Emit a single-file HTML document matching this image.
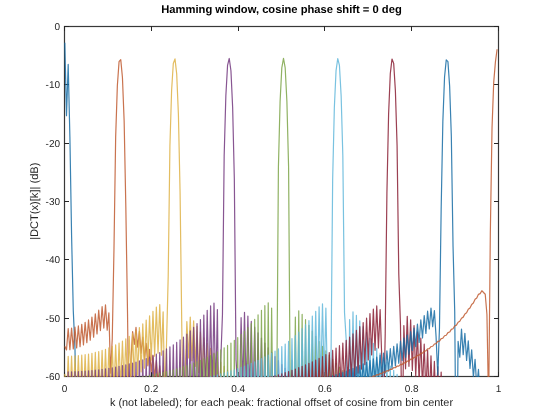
<!DOCTYPE html>
<html><head><meta charset="utf-8"><style>
html,body{margin:0;padding:0;background:#fff;width:543px;height:416px;overflow:hidden}
svg{display:block;will-change:transform}
text{font-family:"Liberation Sans",sans-serif;fill:#262626;text-rendering:geometricPrecision}
</style></head><body><div id="wrap">
<svg width="543" height="416" viewBox="0 0 543 416">
<rect width="543" height="416" fill="#fff"/>
<g stroke="#262626" stroke-width="1" fill="none">
<rect x="64.5" y="26.5" width="434.0" height="350.0" stroke="#383838" stroke-width="1.2"/>
<line x1="64.50" y1="377" x2="64.50" y2="372"/><line x1="64.50" y1="26" x2="64.50" y2="31"/><line x1="151.50" y1="377" x2="151.50" y2="372"/><line x1="151.50" y1="26" x2="151.50" y2="31"/><line x1="238.50" y1="377" x2="238.50" y2="372"/><line x1="238.50" y1="26" x2="238.50" y2="31"/><line x1="324.50" y1="377" x2="324.50" y2="372"/><line x1="324.50" y1="26" x2="324.50" y2="31"/><line x1="411.50" y1="377" x2="411.50" y2="372"/><line x1="411.50" y1="26" x2="411.50" y2="31"/><line x1="498.50" y1="377" x2="498.50" y2="372"/><line x1="498.50" y1="26" x2="498.50" y2="31"/><line x1="64" y1="26.50" x2="69" y2="26.50"/><line x1="499" y1="26.50" x2="494" y2="26.50"/><line x1="64" y1="84.50" x2="69" y2="84.50"/><line x1="499" y1="84.50" x2="494" y2="84.50"/><line x1="64" y1="143.50" x2="69" y2="143.50"/><line x1="499" y1="143.50" x2="494" y2="143.50"/><line x1="64" y1="201.50" x2="69" y2="201.50"/><line x1="499" y1="201.50" x2="494" y2="201.50"/><line x1="64" y1="259.50" x2="69" y2="259.50"/><line x1="499" y1="259.50" x2="494" y2="259.50"/><line x1="64" y1="318.50" x2="69" y2="318.50"/><line x1="499" y1="318.50" x2="494" y2="318.50"/><line x1="64" y1="376.50" x2="69" y2="376.50"/><line x1="499" y1="376.50" x2="494" y2="376.50"/>
</g>
<defs><clipPath id="cp"><rect x="64" y="26" width="435" height="351"/></clipPath></defs>
<g fill="none" stroke-width="1.2" stroke-opacity="0.85" stroke-linejoin="round" clip-path="url(#cp)">
<polyline stroke="#166ca4" points="64.80,42.83 66.50,115.72 68.19,64.42 69.89,136.64 71.58,235.28 73.28,310.76 74.97,348.13 76.67,445.46 78.36,437.49 80.06,469.67 81.75,582.11 83.45,457.36 85.14,528.82 86.84,462.62 88.53,516.95 90.23,471.15 91.92,518.57 93.62,480.27 95.32,523.81 97.01,489.23 98.71,530.25 100.40,497.78 102.10,537.02 103.79,505.86 105.49,543.76 107.18,513.45 108.88,550.34 110.57,520.61 112.27,556.68 113.96,527.35 115.66,562.76 117.35,533.72 119.05,568.57 120.75,539.74 122.44,574.14 124.14,545.46 125.83,579.46 127.53,550.90 129.22,584.56 130.92,556.08 132.61,589.44 134.31,561.02 136.00,594.13 137.70,565.76 139.39,598.64 141.09,570.29 142.78,602.97 144.48,574.65 146.18,607.14 147.87,578.84 149.57,611.17 151.26,582.87 152.96,615.05 154.65,586.76 156.35,618.81 158.04,590.52 159.74,622.45 161.43,594.16 163.13,625.98 164.82,597.68 166.52,629.39 168.21,601.09 169.91,632.71 171.60,604.41 173.30,635.94 175.00,607.62 176.69,639.08 178.39,610.75 180.08,642.13 181.78,613.80 183.47,645.11 185.17,616.77 186.86,648.02 188.56,619.66 190.25,650.85 191.95,622.49 193.64,653.62 195.34,625.25 197.03,656.33 198.73,627.94 200.43,658.97 202.12,630.58 203.82,661.57 205.51,633.16 207.21,664.10 208.90,635.69 210.60,666.59 212.29,638.17 213.99,669.03 215.68,640.61 217.38,671.43 219.07,642.99 220.77,673.78 222.46,645.34 224.16,676.09 225.85,647.64 227.55,678.37 229.25,649.90 230.94,680.60 232.64,652.13 234.33,682.80 236.03,654.32 237.72,684.97 239.42,656.48 241.11,687.11 242.81,658.61 244.50,689.21 246.20,660.71 247.89,691.29 249.59,662.78 251.28,693.34 252.98,664.83 254.68,695.36 256.37,666.84 258.07,697.36 259.76,668.84 261.46,699.34 263.15,670.81 264.85,701.29 266.54,672.76 268.24,703.23 269.93,674.69 271.63,705.14 273.32,676.60 275.02,707.04 276.71,678.49 278.41,708.92 280.10,680.37 281.80,710.78 283.50,682.23 285.19,712.63 286.89,684.07 288.58,714.46 290.28,685.91 291.97,716.29 293.67,687.73 295.36,718.10 297.06,689.54 298.75,719.90 300.45,691.33 302.14,721.69 303.84,693.12 305.53,723.47 307.23,694.91 308.93,725.25 310.62,696.68 312.32,727.02 314.01,698.45 315.71,728.78 317.40,700.21 319.10,730.54 320.79,701.97 322.49,732.29 324.18,703.73 325.88,734.05 327.57,705.49 329.27,735.80 330.96,707.25 332.66,737.56 334.35,709.00 336.05,739.31 337.75,710.76 339.44,741.07 341.14,712.52 342.83,742.83 344.53,714.29 346.22,744.60 347.92,716.06 349.61,746.38 351.31,717.85 353.00,748.16 354.70,719.64 356.39,749.95 358.09,721.44 359.78,751.76 361.48,723.25 363.18,753.58 364.87,725.07 366.57,755.41 368.26,726.92 369.96,757.26 371.65,728.78 373.35,759.13 375.04,730.66 376.74,761.02 378.43,732.56 380.13,762.93 381.82,734.48 383.52,764.87 385.21,736.44 386.91,766.83 388.60,738.42 390.30,768.83 392.00,740.43 393.69,770.86 395.39,742.48 397.08,772.93 398.78,744.58 400.47,775.04 402.17,746.71 403.86,777.20 405.56,748.89 407.25,779.40 408.95,751.13 410.64,781.67 412.34,753.42 414.03,783.99 415.73,755.77 417.43,786.38 419.12,758.20 420.82,788.84 422.51,760.70 424.21,791.39 425.90,763.30 427.60,794.02 429.29,765.98 430.99,796.76 432.68,768.78 434.38,799.61 436.07,771.69 437.77,802.59 439.46,774.74 441.16,805.71 442.85,777.94 444.55,809.00 446.25,781.31 447.94,812.47 449.64,784.88 451.33,816.15 453.03,788.68 454.72,820.08 456.42,792.75 458.11,824.29 459.81,797.13 461.50,828.85 463.20,801.88 464.89,833.81 466.59,807.08 468.28,839.27 469.98,812.83 471.68,845.34 473.37,819.27 475.07,852.21 476.76,826.61 478.46,860.10 480.15,835.15 481.85,869.41 483.54,845.38 485.24,880.77 486.93,858.17 488.63,895.39 490.32,875.25 492.02,915.97 493.71,901.16 495.41,951.10 497.10,956.84"/>
<polyline stroke="#c05b30" points="64.80,346.28 66.50,349.98 68.19,328.55 69.89,349.65 71.58,328.04 73.28,348.98 74.97,327.18 76.67,347.97 78.36,325.96 80.06,346.60 81.75,324.36 83.45,344.85 85.14,322.36 86.84,342.71 88.53,319.94 90.23,340.16 91.92,317.07 93.62,337.21 95.32,313.79 97.01,333.93 98.71,310.18 100.40,330.57 102.10,306.67 103.79,328.06 105.49,304.80 107.18,330.23 108.88,312.76 110.57,373.27 112.27,338.36 113.96,249.90 115.66,137.13 117.35,85.79 119.05,61.70 120.75,59.68 122.44,77.45 124.14,120.86 125.83,207.35 127.53,313.83 129.22,448.44 130.92,360.14 132.61,331.62 134.31,344.51 136.00,327.29 137.70,347.26 139.39,331.37 141.09,353.09 142.78,337.21 144.48,359.49 146.18,343.37 147.87,365.82 149.57,349.40 151.26,371.88 152.96,355.18 154.65,377.62 156.35,360.67 158.04,383.04 159.74,365.87 161.43,388.18 163.13,370.80 164.82,393.04 166.52,375.49 168.21,397.66 169.91,379.95 171.60,402.05 173.30,384.20 175.00,406.24 176.69,388.27 178.39,410.26 180.08,392.18 181.78,414.10 183.47,395.92 185.17,417.80 186.86,399.53 188.56,421.36 190.25,403.00 191.95,424.79 193.64,406.36 195.34,428.11 197.03,409.61 198.73,431.32 200.43,412.75 202.12,434.42 203.82,415.80 205.51,437.44 207.21,418.76 208.90,440.37 210.60,421.65 212.29,443.23 213.99,424.45 215.68,446.00 217.38,427.19 219.07,448.71 220.77,429.85 222.46,451.36 224.16,432.46 225.85,453.94 227.55,435.01 229.25,456.47 230.94,437.50 232.64,458.94 234.33,439.94 236.03,461.36 237.72,442.34 239.42,463.74 241.11,444.69 242.81,466.07 244.50,446.99 246.20,468.36 247.89,449.26 249.59,470.61 251.28,451.49 252.98,472.82 254.68,453.68 256.37,475.00 258.07,455.84 259.76,477.15 261.46,457.96 263.15,479.26 264.85,460.06 266.54,481.35 268.24,462.13 269.93,483.41 271.63,464.17 273.32,485.44 275.02,466.19 276.71,487.45 278.41,468.18 280.10,489.43 281.80,470.15 283.50,491.40 285.19,472.11 286.89,493.34 288.58,474.04 290.28,495.27 291.97,475.96 293.67,497.18 295.36,477.86 297.06,499.07 298.75,479.74 300.45,500.95 302.14,481.62 303.84,502.82 305.53,483.48 307.23,504.68 308.93,485.32 310.62,506.52 312.32,487.16 314.01,508.36 315.71,489.00 317.40,510.19 319.10,490.82 320.79,512.01 322.49,492.64 324.18,513.83 325.88,494.45 327.57,515.64 329.27,496.26 330.96,517.45 332.66,498.07 334.35,519.26 336.05,499.88 337.75,521.07 339.44,501.69 341.14,522.88 342.83,503.50 344.53,524.69 346.22,505.31 347.92,526.51 349.61,507.13 351.31,528.33 353.00,508.95 354.70,530.16 356.39,510.79 358.09,532.00 359.78,512.63 361.48,533.85 363.18,514.48 364.87,535.71 366.57,516.35 368.26,537.59 369.96,518.23 371.65,539.48 373.35,520.13 375.04,541.39 376.74,522.05 378.43,543.32 380.13,524.00 381.82,545.27 383.52,525.96 385.21,547.25 386.91,527.96 388.60,549.26 390.30,529.98 392.00,551.30 393.69,532.03 395.39,553.38 397.08,534.13 398.78,555.49 400.47,536.26 402.17,557.65 403.86,538.44 405.56,559.85 407.25,540.67 408.95,562.10 410.64,542.95 412.34,564.41 414.03,545.29 415.73,566.79 417.43,547.70 419.12,569.23 420.82,550.18 422.51,571.75 424.21,552.74 425.90,574.36 427.60,555.39 429.29,577.06 430.99,558.14 432.68,579.86 434.38,561.01 436.07,582.79 437.77,564.00 439.46,585.85 441.16,567.13 442.85,589.06 444.55,570.43 446.25,592.45 447.94,573.91 449.64,596.03 451.33,577.60 453.03,599.84 454.72,581.53 456.42,603.91 458.11,585.76 459.81,608.30 461.50,590.32 463.20,613.06 464.89,595.29 466.59,618.26 468.28,600.76 469.98,624.02 471.68,606.84 473.37,630.47 475.07,613.70 476.76,637.81 478.46,621.60 480.15,646.35 481.85,630.91 483.54,656.59 485.24,642.28 486.93,669.37 488.63,656.90 490.32,686.46 492.02,677.48 493.71,712.37 495.41,712.62 497.10,768.05"/>
<polyline stroke="#deb145" points="64.80,373.90 66.50,401.75 68.19,356.29 69.89,401.66 71.58,356.15 73.28,401.48 74.97,355.92 76.67,401.20 78.36,355.60 80.06,400.84 81.75,355.18 83.45,400.37 85.14,354.66 86.84,399.81 88.53,354.04 90.23,399.15 91.92,353.31 93.62,398.38 95.32,352.47 97.01,397.50 98.71,351.52 100.40,396.51 102.10,350.45 103.79,395.39 105.49,349.26 107.18,394.14 108.88,347.92 110.57,392.76 112.27,346.44 113.96,391.23 115.66,344.80 117.35,389.54 119.05,343.00 120.75,387.68 122.44,341.00 124.14,385.63 125.83,338.81 127.53,383.37 129.22,336.38 130.92,380.89 132.61,333.72 134.31,378.16 136.00,330.78 137.70,375.16 139.39,327.53 141.09,371.86 142.78,323.96 144.48,368.26 146.18,320.04 147.87,364.36 149.57,315.80 151.26,360.24 152.96,311.33 154.65,356.19 156.35,307.06 158.04,353.18 159.74,304.56 161.43,355.25 163.13,311.88 164.82,400.44 166.52,343.55 168.21,276.12 169.91,146.21 171.60,90.54 173.30,63.44 175.00,58.91 176.69,73.89 178.39,113.84 180.08,192.48 181.78,327.05 183.47,426.73 185.17,372.65 186.86,321.60 188.56,357.90 190.25,317.04 191.95,360.72 193.64,320.85 195.34,366.38 197.03,326.37 198.73,372.52 200.43,332.18 202.12,378.54 203.82,337.85 205.51,384.28 207.21,343.25 208.90,389.68 210.60,348.37 212.29,394.77 213.99,353.21 215.68,399.56 217.38,357.79 219.07,404.09 220.77,362.13 222.46,408.38 224.16,366.25 225.85,412.46 227.55,370.19 229.25,416.35 230.94,373.94 232.64,420.06 234.33,377.54 236.03,423.62 237.72,381.00 239.42,427.04 241.11,384.32 242.81,430.33 244.50,387.53 246.20,433.51 247.89,390.63 249.59,436.58 251.28,393.63 252.98,439.55 254.68,396.54 256.37,442.43 258.07,399.36 259.76,445.24 261.46,402.11 263.15,447.96 264.85,404.79 266.54,450.62 268.24,407.40 269.93,453.21 271.63,409.95 273.32,455.75 275.02,412.45 276.71,458.23 278.41,414.89 280.10,460.65 281.80,417.28 283.50,463.04 285.19,419.63 286.89,465.37 288.58,421.94 290.28,467.67 291.97,424.21 293.67,469.93 295.36,426.45 297.06,472.15 298.75,428.65 300.45,474.35 302.14,430.82 303.84,476.51 305.53,432.96 307.23,478.65 308.93,435.08 310.62,480.76 312.32,437.18 314.01,482.85 315.71,439.25 317.40,484.92 319.10,441.30 320.79,486.97 322.49,443.34 324.18,489.00 325.88,445.36 327.57,491.02 329.27,447.37 330.96,493.03 332.66,449.37 334.35,495.02 336.05,451.36 337.75,497.01 339.44,453.34 341.14,498.99 342.83,455.31 344.53,500.96 346.22,457.28 347.92,502.94 349.61,459.25 351.31,504.91 353.00,461.22 354.70,506.88 356.39,463.18 358.09,508.85 359.78,465.16 361.48,510.83 363.18,467.13 364.87,512.81 366.57,469.12 368.26,514.80 369.96,471.12 371.65,516.81 373.35,473.12 375.04,518.82 376.74,475.15 378.43,520.86 380.13,477.19 381.82,522.91 383.52,479.25 385.21,524.98 386.91,481.33 388.60,527.08 390.30,483.44 392.00,529.20 393.69,485.57 395.39,531.36 397.08,487.74 398.78,533.55 400.47,489.95 402.17,535.77 403.86,492.20 405.56,538.05 407.25,494.50 408.95,540.37 410.64,496.84 412.34,542.74 414.03,499.24 415.73,545.17 417.43,501.71 419.12,547.67 420.82,504.24 422.51,550.25 424.21,506.86 425.90,552.91 427.60,509.56 429.29,555.65 430.99,512.35 432.68,558.51 434.38,515.26 436.07,561.48 437.77,518.29 439.46,564.58 441.16,521.47 442.85,567.83 444.55,524.80 446.25,571.24 447.94,528.31 449.64,574.86 451.33,532.03 453.03,578.70 454.72,536.00 456.42,582.80 458.11,540.25 459.81,587.21 461.50,544.83 463.20,591.99 464.89,549.83 466.59,597.22 468.28,555.31 469.98,602.99 471.68,561.41 473.37,609.46 475.07,568.29 476.76,616.82 478.46,576.20 480.15,625.37 481.85,585.52 483.54,635.62 485.24,596.90 486.93,648.41 488.63,611.53 490.32,665.51 492.02,632.11 493.71,691.42 495.41,667.25 497.10,747.10"/>
<polyline stroke="#73387f" points="64.80,389.44 66.50,454.59 68.19,371.86 69.89,454.55 71.58,371.80 73.28,454.47 74.97,371.70 76.67,454.35 78.36,371.55 80.06,454.18 81.75,371.37 83.45,453.98 85.14,371.14 86.84,453.74 88.53,370.88 90.23,453.46 91.92,370.56 93.62,453.13 95.32,370.21 97.01,452.76 98.71,369.81 100.40,452.34 102.10,369.36 103.79,451.88 105.49,368.87 107.18,451.37 108.88,368.32 110.57,450.81 112.27,367.73 113.96,450.20 115.66,367.08 117.35,449.54 119.05,366.38 120.75,448.83 122.44,365.63 124.14,448.06 125.83,364.81 127.53,447.23 129.22,363.93 130.92,446.33 132.61,362.99 134.31,445.38 136.00,361.98 137.70,444.35 139.39,360.90 141.09,443.25 142.78,359.74 144.48,442.08 146.18,358.49 147.87,440.82 149.57,357.16 151.26,439.48 152.96,355.74 154.65,438.04 156.35,354.22 158.04,436.50 159.74,352.58 161.43,434.86 163.13,350.83 164.82,433.09 166.52,348.95 168.21,431.20 169.91,346.93 171.60,429.17 173.30,344.76 175.00,426.99 176.69,342.42 178.39,424.64 180.08,339.89 181.78,422.10 183.47,337.15 185.17,419.37 186.86,334.18 188.56,416.41 190.25,330.96 191.95,413.21 193.64,327.45 195.34,409.76 197.03,323.63 198.73,406.04 200.43,319.48 202.12,402.08 203.82,315.02 205.51,398.00 207.21,310.35 208.90,394.12 210.60,305.89 212.29,391.56 213.99,303.12 215.68,394.79 217.38,309.48 219.07,449.24 220.77,360.18 222.46,314.53 224.16,156.24 225.85,95.71 227.55,65.48 229.25,58.47 230.94,70.73 232.64,107.33 234.33,178.98 236.03,359.59 237.72,387.80 239.42,398.92 241.11,317.70 242.81,387.17 244.50,312.37 246.20,390.86 247.89,316.00 249.59,396.95 251.28,321.43 252.98,403.32 254.68,327.15 256.37,409.47 258.07,332.73 259.76,415.28 261.46,338.06 263.15,420.71 264.85,343.10 266.54,425.81 268.24,347.85 269.93,430.60 271.63,352.35 273.32,435.11 275.02,356.62 276.71,439.38 278.41,360.67 280.10,443.43 281.80,364.54 283.50,447.29 285.19,368.23 286.89,450.98 288.58,371.77 290.28,454.51 291.97,375.18 293.67,457.91 295.36,378.46 297.06,461.18 298.75,381.63 300.45,464.34 302.14,384.69 303.84,467.40 305.53,387.67 307.23,470.37 308.93,390.56 310.62,473.26 312.32,393.37 314.01,476.07 315.71,396.12 317.40,478.81 319.10,398.80 320.79,481.49 322.49,401.43 324.18,484.11 325.88,404.00 327.57,486.68 329.27,406.53 330.96,489.21 332.66,409.01 334.35,491.69 336.05,411.46 337.75,494.14 339.44,413.87 341.14,496.55 342.83,416.25 344.53,498.93 346.22,418.61 347.92,501.29 349.61,420.94 351.31,503.62 353.00,423.25 354.70,505.93 356.39,425.54 358.09,508.23 359.78,427.82 361.48,510.52 363.18,430.09 364.87,512.79 366.57,432.36 368.26,515.06 369.96,434.61 371.65,517.33 373.35,436.87 375.04,519.59 376.74,439.13 378.43,521.86 380.13,441.39 381.82,524.14 383.52,443.66 385.21,526.42 386.91,445.95 388.60,528.72 390.30,448.25 392.00,531.04 393.69,450.57 395.39,533.37 397.08,452.91 398.78,535.73 400.47,455.28 402.17,538.13 403.86,457.68 405.56,540.55 407.25,460.12 408.95,543.02 410.64,462.61 412.34,545.53 414.03,465.14 415.73,548.10 417.43,467.73 419.12,550.72 420.82,470.38 422.51,553.41 424.21,473.11 425.90,556.18 427.60,475.91 429.29,559.03 430.99,478.81 432.68,561.98 434.38,481.81 436.07,565.04 437.77,484.93 439.46,568.23 441.16,488.18 442.85,571.56 444.55,491.59 446.25,575.05 447.94,495.17 449.64,578.73 451.33,498.96 453.03,582.64 454.72,502.98 456.42,586.80 458.11,507.29 459.81,591.27 461.50,511.92 463.20,596.10 464.89,516.96 466.59,601.37 468.28,522.49 469.98,607.18 471.68,528.62 473.37,613.68 475.07,535.54 476.76,621.07 478.46,543.48 480.15,629.65 481.85,552.82 483.54,639.92 485.24,564.22 486.93,652.73 488.63,578.86 490.32,669.84 492.02,599.45 493.71,695.76 495.41,634.60 497.10,751.45"/>
<polyline stroke="#7da548" points="64.80,400.50 66.50,741.02 68.19,382.93 69.89,740.93 71.58,382.90 73.28,740.77 74.97,382.84 76.67,740.52 78.36,382.76 80.06,740.19 81.75,382.66 83.45,739.77 85.14,382.54 86.84,739.28 88.53,382.39 90.23,738.70 91.92,382.22 93.62,738.03 95.32,382.03 97.01,737.29 98.71,381.81 100.40,736.46 102.10,381.57 103.79,735.55 105.49,381.30 107.18,734.55 108.88,381.01 110.57,733.47 112.27,380.70 113.96,732.31 115.66,380.35 117.35,731.06 119.05,379.99 120.75,729.73 122.44,379.59 124.14,728.32 125.83,379.17 127.53,726.81 129.22,378.72 130.92,725.23 132.61,378.24 134.31,723.55 136.00,377.73 137.70,721.79 139.39,377.18 141.09,719.93 142.78,376.61 144.48,717.99 146.18,376.00 147.87,715.95 149.57,375.36 151.26,713.83 152.96,374.69 154.65,711.60 156.35,373.97 158.04,709.27 159.74,373.22 161.43,706.85 163.13,372.43 164.82,704.32 166.52,371.59 168.21,701.68 169.91,370.71 171.60,698.93 173.30,369.78 175.00,696.07 176.69,368.81 178.39,693.08 180.08,367.78 181.78,689.97 183.47,366.70 185.17,686.73 186.86,365.55 188.56,683.35 190.25,364.35 191.95,679.82 193.64,363.08 195.34,676.14 197.03,361.74 198.73,672.29 200.43,360.33 202.12,668.26 203.82,358.83 205.51,664.04 207.21,357.25 208.90,659.62 210.60,355.57 212.29,654.98 213.99,353.79 215.68,650.09 217.38,351.90 219.07,644.94 220.77,349.89 222.46,639.49 224.16,347.74 225.85,633.72 227.55,345.44 229.25,627.59 230.94,342.99 232.64,621.05 234.33,340.35 236.03,614.05 237.72,337.51 239.42,606.51 241.11,334.45 242.81,598.36 244.50,331.14 246.20,589.48 247.89,327.55 249.59,579.73 251.28,323.67 252.98,568.93 254.68,319.46 256.37,556.82 258.07,314.95 259.76,543.04 261.46,310.23 263.15,527.03 264.85,305.70 266.54,507.90 268.24,302.75 269.93,484.07 271.63,308.12 273.32,452.19 275.02,390.56 276.71,402.40 278.41,167.31 280.10,101.33 281.80,67.85 283.50,58.35 285.19,67.93 286.89,101.33 288.58,166.80 290.28,402.40 291.97,360.00 293.67,452.19 295.36,317.12 297.06,484.08 298.75,310.78 300.45,507.92 302.14,314.26 303.84,527.07 305.53,319.68 307.23,543.10 308.93,325.43 310.62,556.92 312.32,331.05 314.01,569.07 315.71,336.42 317.40,579.92 319.10,341.50 320.79,589.73 322.49,346.31 324.18,598.68 325.88,350.86 327.57,606.93 329.27,355.19 330.96,614.57 332.66,359.31 334.35,621.70 336.05,363.25 337.75,628.39 339.44,367.02 341.14,634.68 342.83,370.65 344.53,640.64 346.22,374.16 347.92,646.29 349.61,377.55 351.31,651.68 353.00,380.83 354.70,656.83 356.39,384.03 358.09,661.77 359.78,387.15 361.48,666.52 363.18,390.19 364.87,671.09 366.57,393.18 368.26,675.51 369.96,396.11 371.65,679.80 373.35,398.99 375.04,683.95 376.74,401.84 378.43,688.00 380.13,404.65 381.82,691.95 383.52,407.44 385.21,695.81 386.91,410.20 388.60,699.59 390.30,412.95 392.00,703.30 393.69,415.69 395.39,706.95 397.08,418.43 398.78,710.56 400.47,421.18 402.17,714.12 403.86,423.93 405.56,717.65 407.25,426.70 408.95,721.16 410.64,429.49 412.34,724.65 414.03,432.31 415.73,728.14 417.43,435.17 419.12,731.64 420.82,438.08 422.51,735.15 424.21,441.04 425.90,738.69 427.60,444.07 429.29,742.27 430.99,447.18 432.68,745.90 434.38,450.37 436.07,749.59 437.77,453.67 439.46,753.37 441.16,457.10 442.85,757.26 444.55,460.66 446.25,761.27 447.94,464.39 449.64,765.43 451.33,468.31 453.03,769.78 454.72,472.46 456.42,774.34 458.11,476.88 459.81,779.18 461.50,481.62 463.20,784.35 464.89,486.75 466.59,789.92 468.28,492.37 469.98,796.01 471.68,498.58 473.37,802.75 475.07,505.55 476.76,810.35 478.46,513.55 480.15,819.11 481.85,522.94 483.54,829.53 485.24,534.38 486.93,842.46 488.63,549.05 490.32,859.66 492.02,569.66 493.71,885.64 495.41,604.83 497.10,941.35"/>
<polyline stroke="#62b7db" points="64.80,409.56 66.50,474.37 68.19,391.99 69.89,474.35 71.58,391.97 73.28,474.33 74.97,391.94 76.67,474.28 78.36,391.89 80.06,474.23 81.75,391.82 83.45,474.15 85.14,391.74 86.84,474.07 88.53,391.65 90.23,473.97 91.92,391.54 93.62,473.85 95.32,391.42 97.01,473.72 98.71,391.29 100.40,473.58 102.10,391.13 103.79,473.41 105.49,390.97 107.18,473.24 108.88,390.79 110.57,473.05 112.27,390.59 113.96,472.84 115.66,390.38 117.35,472.62 119.05,390.15 120.75,472.38 122.44,389.91 124.14,472.13 125.83,389.65 127.53,471.86 129.22,389.37 130.92,471.57 132.61,389.08 134.31,471.26 136.00,388.77 137.70,470.94 139.39,388.44 141.09,470.60 142.78,388.09 144.48,470.25 146.18,387.73 147.87,469.87 149.57,387.35 151.26,469.47 152.96,386.95 154.65,469.06 156.35,386.53 158.04,468.63 159.74,386.09 161.43,468.17 163.13,385.63 164.82,467.69 166.52,385.15 168.21,467.20 169.91,384.65 171.60,466.68 173.30,384.12 175.00,466.14 176.69,383.57 178.39,465.57 180.08,383.00 181.78,464.98 183.47,382.41 185.17,464.36 186.86,381.78 188.56,463.72 190.25,381.14 191.95,463.05 193.64,380.46 195.34,462.36 197.03,379.76 198.73,461.63 200.43,379.03 202.12,460.87 203.82,378.26 205.51,460.08 207.21,377.47 208.90,459.26 210.60,376.64 212.29,458.40 213.99,375.77 215.68,457.51 217.38,374.87 219.07,456.57 220.77,373.93 222.46,455.60 224.16,372.95 225.85,454.58 227.55,371.93 229.25,453.52 230.94,370.86 232.64,452.41 234.33,369.74 236.03,451.24 237.72,368.57 239.42,450.03 241.11,367.34 242.81,448.75 244.50,366.06 246.20,447.42 247.89,364.72 249.59,446.02 251.28,363.31 252.98,444.54 254.68,361.82 256.37,442.99 258.07,360.26 259.76,441.36 261.46,358.62 263.15,439.64 264.85,356.89 266.54,437.82 268.24,355.06 269.93,435.89 271.63,353.12 273.32,433.84 275.02,351.06 276.71,431.67 278.41,348.88 280.10,429.36 281.80,346.55 283.50,426.88 285.19,344.07 286.89,424.24 288.58,341.41 290.28,421.39 291.97,338.56 293.67,418.33 295.36,335.49 297.06,415.01 298.75,332.18 300.45,411.41 302.14,328.60 303.84,407.50 305.53,324.72 307.23,403.23 308.93,320.54 310.62,398.57 312.32,316.05 314.01,393.53 315.71,311.36 317.40,388.19 319.10,306.83 320.79,383.01 322.49,303.75 324.18,379.80 325.88,308.17 327.57,389.73 329.27,475.03 330.96,364.60 332.66,179.59 334.35,107.44 336.05,70.57 337.75,58.54 339.44,65.48 341.14,95.81 342.83,155.73 344.53,312.68 346.22,339.95 347.92,490.68 349.61,319.49 351.31,405.64 353.00,311.90 354.70,401.74 356.39,315.27 358.09,404.96 359.78,320.77 361.48,409.88 363.18,326.66 364.87,415.19 366.57,332.45 368.26,420.47 369.96,337.99 371.65,425.59 373.35,343.27 375.04,430.51 376.74,348.28 378.43,435.23 380.13,353.06 381.82,439.75 383.52,357.63 385.21,444.10 386.91,362.00 388.60,448.29 390.30,366.22 392.00,452.35 393.69,370.30 395.39,456.29 397.08,374.26 398.78,460.13 400.47,378.12 402.17,463.88 403.86,381.89 405.56,467.57 407.25,385.60 408.95,471.21 410.64,389.25 412.34,474.80 414.03,392.87 415.73,478.36 417.43,396.46 419.12,481.91 420.82,400.04 422.51,485.47 424.21,403.62 425.90,489.03 427.60,407.23 429.29,492.62 430.99,410.86 432.68,496.26 434.38,414.55 436.07,499.95 437.77,418.30 439.46,503.72 441.16,422.13 442.85,507.60 444.55,426.08 446.25,511.59 447.94,430.16 449.64,515.73 451.33,434.40 453.03,520.06 454.72,438.84 456.42,524.60 458.11,443.52 459.81,529.42 461.50,448.50 463.20,534.56 464.89,453.85 466.59,540.11 468.28,459.65 469.98,546.18 471.68,466.03 473.37,552.90 475.07,473.16 476.76,560.49 478.46,481.28 480.15,569.23 481.85,490.78 483.54,579.63 485.24,502.30 486.93,592.55 488.63,517.05 490.32,609.74 492.02,537.71 493.71,635.72 495.41,572.90 497.10,691.43"/>
<polyline stroke="#8a1f34" points="64.80,417.81 66.50,445.63 68.19,400.24 69.89,445.62 71.58,400.23 73.28,445.60 74.97,400.20 76.67,445.57 78.36,400.17 80.06,445.53 81.75,400.12 83.45,445.48 85.14,400.07 86.84,445.42 88.53,400.00 90.23,445.35 91.92,399.92 93.62,445.26 95.32,399.84 97.01,445.17 98.71,399.74 100.40,445.07 102.10,399.63 103.79,444.96 105.49,399.51 107.18,444.83 108.88,399.39 110.57,444.70 112.27,399.25 113.96,444.55 115.66,399.10 117.35,444.40 119.05,398.94 120.75,444.23 122.44,398.77 124.14,444.06 125.83,398.59 127.53,443.87 129.22,398.39 130.92,443.67 132.61,398.19 134.31,443.46 136.00,397.97 137.70,443.24 139.39,397.75 141.09,443.00 142.78,397.51 144.48,442.76 146.18,397.26 147.87,442.50 149.57,396.99 151.26,442.23 152.96,396.72 154.65,441.95 156.35,396.43 158.04,441.65 159.74,396.13 161.43,441.35 163.13,395.82 164.82,441.03 166.52,395.50 168.21,440.70 169.91,395.16 171.60,440.35 173.30,394.81 175.00,439.99 176.69,394.44 178.39,439.62 180.08,394.06 181.78,439.23 183.47,393.67 185.17,438.83 186.86,393.26 188.56,438.41 190.25,392.84 191.95,437.98 193.64,392.40 195.34,437.53 197.03,391.95 198.73,437.07 200.43,391.48 202.12,436.59 203.82,391.00 205.51,436.09 207.21,390.50 208.90,435.58 210.60,389.98 212.29,435.05 213.99,389.44 215.68,434.50 217.38,388.88 219.07,433.93 220.77,388.31 222.46,433.35 224.16,387.71 225.85,432.74 227.55,387.10 229.25,432.11 230.94,386.47 232.64,431.46 234.33,385.81 236.03,430.79 237.72,385.13 239.42,430.10 241.11,384.43 242.81,429.38 244.50,383.70 246.20,428.64 247.89,382.95 249.59,427.87 251.28,382.17 252.98,427.07 254.68,381.37 256.37,426.25 258.07,380.54 259.76,425.40 261.46,379.67 263.15,424.51 264.85,378.78 266.54,423.60 268.24,377.85 269.93,422.65 271.63,376.89 273.32,421.66 275.02,375.90 276.71,420.64 278.41,374.86 280.10,419.58 281.80,373.79 283.50,418.47 285.19,372.67 286.89,417.32 288.58,371.51 290.28,416.13 291.97,370.30 293.67,414.88 295.36,369.03 297.06,413.58 298.75,367.72 300.45,412.22 302.14,366.34 303.84,410.80 305.53,364.90 307.23,409.32 308.93,363.40 310.62,407.76 312.32,361.82 314.01,406.13 315.71,360.16 317.40,404.41 319.10,358.42 320.79,402.60 322.49,356.59 324.18,400.70 325.88,354.65 327.57,398.68 329.27,352.60 330.96,396.54 332.66,350.43 334.35,394.27 336.05,348.13 337.75,391.86 339.44,345.67 341.14,389.28 342.83,343.05 344.53,386.52 346.22,340.24 347.92,383.55 349.61,337.22 351.31,380.35 353.00,333.97 354.70,376.89 356.39,330.47 358.09,373.14 359.78,326.67 361.48,369.07 363.18,322.58 364.87,364.66 366.57,318.19 368.26,359.91 369.96,313.60 371.65,354.97 373.35,309.13 375.04,350.31 376.74,305.97 378.43,347.91 380.13,309.49 381.82,359.52 383.52,419.83 385.21,333.88 386.91,193.42 388.60,114.09 390.30,73.63 392.00,59.04 393.69,63.37 395.39,90.76 397.08,145.61 398.78,273.93 400.47,324.88 402.17,442.05 403.86,325.58 405.56,368.78 407.25,316.34 408.95,366.31 410.64,319.73 412.34,370.45 414.03,325.53 415.73,376.14 417.43,331.83 419.12,382.15 420.82,338.10 422.51,388.13 424.21,344.19 425.90,393.96 427.60,350.07 429.29,399.62 430.99,355.76 432.68,405.13 434.38,361.28 436.07,410.51 437.77,366.69 439.46,415.80 441.16,372.00 442.85,421.04 444.55,377.27 446.25,426.25 447.94,382.53 449.64,431.49 451.33,387.83 453.03,436.80 454.72,393.22 456.42,442.22 458.11,398.75 459.81,447.81 461.50,404.48 463.20,453.65 464.89,410.49 466.59,459.82 468.28,416.88 469.98,466.42 471.68,423.77 473.37,473.61 475.07,431.33 476.76,481.60 478.46,439.83 480.15,490.68 481.85,449.64 483.54,501.36 485.24,461.41 486.93,514.50 488.63,476.35 490.32,531.85 492.02,497.15 493.71,557.93 495.41,532.42 497.10,613.70"/>
<polyline stroke="#166ca4" points="64.80,426.05 66.50,429.76 68.19,408.49 69.89,429.75 71.58,408.48 73.28,429.73 74.97,408.46 76.67,429.71 78.36,408.43 80.06,429.68 81.75,408.39 83.45,429.64 85.14,408.35 86.84,429.59 88.53,408.29 90.23,429.53 91.92,408.23 93.62,429.46 95.32,408.16 97.01,429.39 98.71,408.08 100.40,429.31 102.10,408.00 103.79,429.22 105.49,407.90 107.18,429.12 108.88,407.80 110.57,429.01 112.27,407.69 113.96,428.89 115.66,407.57 117.35,428.77 119.05,407.44 120.75,428.64 122.44,407.30 124.14,428.50 125.83,407.16 127.53,428.35 129.22,407.00 130.92,428.19 132.61,406.84 134.31,428.02 136.00,406.67 137.70,427.84 139.39,406.49 141.09,427.66 142.78,406.30 144.48,427.46 146.18,406.10 147.87,427.26 149.57,405.89 151.26,427.05 152.96,405.68 154.65,426.83 156.35,405.45 158.04,426.60 159.74,405.22 161.43,426.35 163.13,404.97 164.82,426.11 166.52,404.72 168.21,425.85 169.91,404.45 171.60,425.58 173.30,404.18 175.00,425.30 176.69,403.89 178.39,425.01 180.08,403.60 181.78,424.71 183.47,403.30 185.17,424.40 186.86,402.98 188.56,424.08 190.25,402.66 191.95,423.75 193.64,402.32 195.34,423.41 197.03,401.98 198.73,423.06 200.43,401.62 202.12,422.69 203.82,401.25 205.51,422.32 207.21,400.87 208.90,421.93 210.60,400.48 212.29,421.54 213.99,400.08 215.68,421.13 217.38,399.67 219.07,420.71 220.77,399.24 222.46,420.27 224.16,398.80 225.85,419.83 227.55,398.35 229.25,419.37 230.94,397.88 232.64,418.90 234.33,397.41 236.03,418.41 237.72,396.92 239.42,417.91 241.11,396.41 242.81,417.40 244.50,395.89 246.20,416.87 247.89,395.36 249.59,416.33 251.28,394.81 252.98,415.77 254.68,394.25 256.37,415.20 258.07,393.67 259.76,414.61 261.46,393.07 263.15,414.01 264.85,392.46 266.54,413.39 268.24,391.84 269.93,412.75 271.63,391.19 273.32,412.09 275.02,390.53 276.71,411.42 278.41,389.84 280.10,410.72 281.80,389.14 283.50,410.01 285.19,388.42 286.89,409.28 288.58,387.68 290.28,408.52 291.97,386.92 293.67,407.75 295.36,386.13 297.06,406.95 298.75,385.33 300.45,406.13 302.14,384.50 303.84,405.28 305.53,383.64 307.23,404.41 308.93,382.76 310.62,403.51 312.32,381.85 314.01,402.59 315.71,380.92 317.40,401.64 319.10,379.95 320.79,400.65 322.49,378.96 324.18,399.64 325.88,377.93 327.57,398.59 329.27,376.87 330.96,397.50 332.66,375.77 334.35,396.38 336.05,374.64 337.75,395.22 339.44,373.46 341.14,394.02 342.83,372.25 344.53,392.78 346.22,370.99 347.92,391.49 349.61,369.68 351.31,390.15 353.00,368.32 354.70,388.76 356.39,366.91 358.09,387.31 359.78,365.44 361.48,385.80 363.18,363.91 364.87,384.23 366.57,362.31 368.26,382.58 369.96,360.64 371.65,380.86 373.35,358.89 375.04,379.06 376.74,357.06 378.43,377.16 380.13,355.13 381.82,375.17 383.52,353.11 385.21,373.07 386.91,350.97 388.60,370.85 390.30,348.70 392.00,368.49 393.69,346.30 395.39,365.99 397.08,343.75 398.78,363.32 400.47,341.03 402.17,360.46 403.86,338.11 405.56,357.39 407.25,334.99 408.95,354.09 410.64,331.62 412.34,350.52 414.03,327.99 415.73,346.66 417.43,324.08 419.12,342.49 420.82,319.89 422.51,338.01 424.21,315.50 425.90,333.36 427.60,311.20 429.29,328.98 430.99,308.02 432.68,326.67 434.38,310.52 436.07,336.59 437.77,374.87 439.46,328.42 441.16,209.53 442.85,121.38 444.55,77.03 446.25,59.83 447.94,61.61 449.64,86.18 451.33,136.26 453.03,246.31 454.72,311.43 456.42,505.65 458.11,341.23 459.81,357.15 461.50,328.99 463.20,354.70 464.89,333.28 466.59,360.41 468.28,340.92 469.98,368.36 471.68,349.73 473.37,377.29 475.07,359.23 476.76,386.97 478.46,369.46 480.15,397.56 481.85,380.74 483.54,409.49 485.24,393.70 486.93,423.63 488.63,409.55 490.32,441.73 492.02,430.99 493.71,468.30 495.41,466.65 497.10,524.31"/>
<polyline stroke="#c05b30" points="64.80,435.11 66.50,418.49 68.19,417.55 69.89,418.48 71.58,417.54 73.28,418.46 74.97,417.52 76.67,418.44 78.36,417.49 80.06,418.41 81.75,417.46 83.45,418.37 85.14,417.42 86.84,418.33 88.53,417.37 90.23,418.27 91.92,417.31 93.62,418.21 95.32,417.25 97.01,418.14 98.71,417.17 100.40,418.07 102.10,417.09 103.79,417.98 105.49,417.00 107.18,417.89 108.88,416.91 110.57,417.79 112.27,416.80 113.96,417.68 115.66,416.69 117.35,417.57 119.05,416.57 120.75,417.44 122.44,416.45 124.14,417.31 125.83,416.31 127.53,417.17 129.22,416.17 130.92,417.03 132.61,416.02 134.31,416.87 136.00,415.86 137.70,416.71 139.39,415.69 141.09,416.53 142.78,415.51 144.48,416.35 146.18,415.33 147.87,416.17 149.57,415.14 151.26,415.97 152.96,414.93 154.65,415.76 156.35,414.73 158.04,415.55 159.74,414.51 161.43,415.33 163.13,414.28 164.82,415.10 166.52,414.05 168.21,414.86 169.91,413.80 171.60,414.61 173.30,413.55 175.00,414.35 176.69,413.29 178.39,414.09 180.08,413.02 181.78,413.81 183.47,412.74 185.17,413.53 186.86,412.45 188.56,413.23 190.25,412.15 191.95,412.93 193.64,411.84 195.34,412.62 197.03,411.53 198.73,412.30 200.43,411.20 202.12,411.97 203.82,410.86 205.51,411.62 207.21,410.52 208.90,411.27 210.60,410.16 212.29,410.91 213.99,409.79 215.68,410.54 217.38,409.42 219.07,410.16 220.77,409.03 222.46,409.76 224.16,408.63 225.85,409.36 227.55,408.22 229.25,408.95 230.94,407.80 232.64,408.52 234.33,407.37 236.03,408.08 237.72,406.93 239.42,407.64 241.11,406.47 242.81,407.18 244.50,406.01 246.20,406.70 247.89,405.53 249.59,406.22 251.28,405.04 252.98,405.72 254.68,404.54 256.37,405.21 258.07,404.02 259.76,404.69 261.46,403.49 263.15,404.16 264.85,402.95 266.54,403.61 268.24,402.40 269.93,403.05 271.63,401.83 273.32,402.47 275.02,401.24 276.71,401.88 278.41,400.65 280.10,401.28 281.80,400.03 283.50,400.66 285.19,399.41 286.89,400.02 288.58,398.76 290.28,399.37 291.97,398.10 293.67,398.70 295.36,397.43 297.06,398.02 298.75,396.74 300.45,397.32 302.14,396.03 303.84,396.60 305.53,395.30 307.23,395.87 308.93,394.55 310.62,395.11 312.32,393.79 314.01,394.34 315.71,393.01 317.40,393.54 319.10,392.20 320.79,392.73 322.49,391.38 324.18,391.90 325.88,390.53 327.57,391.04 329.27,389.67 330.96,390.16 332.66,388.78 334.35,389.26 336.05,387.86 337.75,388.33 339.44,386.92 341.14,387.38 342.83,385.96 344.53,386.41 346.22,384.97 347.92,385.40 349.61,383.95 351.31,384.37 353.00,382.91 354.70,383.31 356.39,381.83 358.09,382.22 359.78,380.73 361.48,381.10 363.18,379.59 364.87,379.94 366.57,378.41 368.26,378.76 369.96,377.21 371.65,377.53 373.35,375.96 375.04,376.27 376.74,374.68 378.43,374.96 380.13,373.36 381.82,373.62 383.52,371.99 385.21,372.23 386.91,370.58 388.60,370.79 390.30,369.12 392.00,369.31 393.69,367.60 395.39,367.77 397.08,366.04 398.78,366.18 400.47,364.42 402.17,364.53 403.86,362.74 405.56,362.82 407.25,360.99 408.95,361.04 410.64,359.17 412.34,359.19 414.03,357.28 415.73,357.26 417.43,355.31 419.12,355.25 420.82,353.26 422.51,353.15 424.21,351.11 425.90,350.96 427.60,348.86 429.29,348.66 430.99,346.51 432.68,346.25 434.38,344.03 436.07,343.71 437.77,341.42 439.46,341.04 441.16,338.67 442.85,338.21 444.55,335.77 446.25,335.23 447.94,332.68 449.64,332.06 451.33,329.41 453.03,328.69 454.72,325.92 456.42,325.09 458.11,322.19 459.81,321.25 461.50,318.19 463.20,317.13 464.89,313.91 466.59,312.72 468.28,309.32 469.98,308.01 471.68,304.42 473.37,303.05 475.07,299.32 476.76,298.03 478.46,294.34 480.15,293.62 481.85,290.69 483.54,292.53 485.24,294.29 486.93,314.46 488.63,407.57 490.32,233.47 492.02,128.32 493.71,82.35 495.41,62.03 497.10,49.26"/>
</g>
<g font-size="10"><text x="64.50" y="392" text-anchor="middle">0</text><text x="151.30" y="392" text-anchor="middle">0.2</text><text x="238.10" y="392" text-anchor="middle">0.4</text><text x="324.90" y="392" text-anchor="middle">0.6</text><text x="411.70" y="392" text-anchor="middle">0.8</text><text x="498.50" y="392" text-anchor="middle">1</text><text x="60" y="30.00" text-anchor="end">0</text><text x="60" y="88.33" text-anchor="end">-10</text><text x="60" y="146.67" text-anchor="end">-20</text><text x="60" y="205.00" text-anchor="end">-30</text><text x="60" y="263.33" text-anchor="end">-40</text><text x="60" y="321.67" text-anchor="end">-50</text><text x="60" y="380.00" text-anchor="end">-60</text></g>
<text x="281.5" y="13.2" text-anchor="middle" font-size="11.2" font-weight="bold" style="fill:#000">Hamming window, cosine phase shift = 0 deg</text>
<text x="281.5" y="406" text-anchor="middle" font-size="10.9">k (not labeled); for each peak: fractional offset of cosine from bin center</text>
<text transform="translate(37.6,201.2) rotate(-90)" x="0" y="0" text-anchor="middle" font-size="11.1">|DCT(x)[k]| (dB)</text>
</svg></div>
</body></html>
